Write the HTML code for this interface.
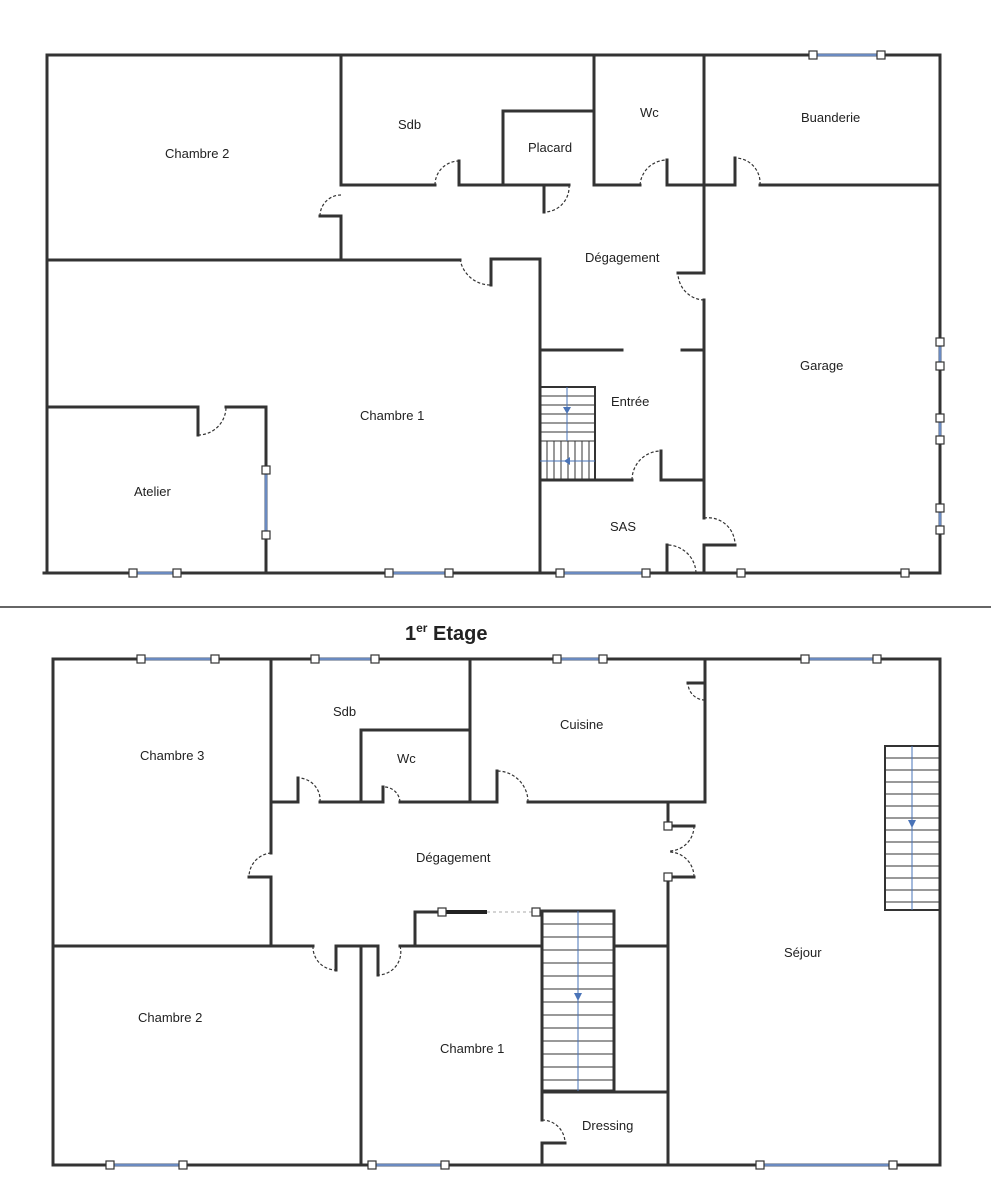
<!DOCTYPE html>
<html><head><meta charset="utf-8"><style>
html,body{margin:0;padding:0;background:#fff;}
svg{display:block;}
text{font-family:"Liberation Sans",sans-serif;font-size:13px;fill:#222;}
</style></head><body>
<svg width="991" height="1200" viewBox="0 0 991 1200" xmlns="http://www.w3.org/2000/svg">
<g stroke="#333" stroke-width="3" fill="none" stroke-linecap="square">
<!-- TOP PLAN outer -->
<path d="M47 55 H940 V572 M47 55 V573 M44 573 H940"/>
<!-- chambre 2 -->
<path d="M341 55 V185 M47 260 H460 M341 216 V260 M320 216 H341"/>
<path d="M341 185 H435 M459 185 H569 M503 185 V111 H594 M594 55 V185 H640 M667 185 H735 M760 185 H940"/>
<path d="M459 161 V185 M667 160 V185 M735 158 V185 M544 185 V212"/>
<path d="M491 259 V285 M491 259 H540 V573"/>
<path d="M540 350 H622 M682 350 H704"/>
<path d="M704 55 V272 M678 273 H704 M704 300 V518 M704 545 H735 M704 545 V573"/>
<path d="M540 480 H632 M661 451 V480 H704 M667 545 V573"/>
<path d="M47 407 H198 V435 M226 407 H266 V573"/>
</g>
<!-- door arcs top -->
<g stroke="#333" stroke-width="1.2" fill="none" stroke-dasharray="3,2">
<path d="M435 185 A24 24 0 0 1 459 161"/>
<path d="M569 185 A25 25 0 0 1 544 212"/>
<path d="M640 185 A27 27 0 0 1 667 160"/>
<path d="M760 185 A25 25 0 0 0 735 158"/>
<path d="M341 195 A21 21 0 0 0 320 216"/>
<path d="M460 259 A31 31 0 0 0 491 285"/>
<path d="M704 300 A27 27 0 0 1 678 273"/>
<path d="M632 480 A29 29 0 0 1 661 451"/>
<path d="M704 518 A27 27 0 0 1 735 545"/>
<path d="M696 573 A29 29 0 0 0 667 545"/>
<path d="M198 435 A28 28 0 0 0 226 407"/>
</g>
<!-- stairs top -->
<g stroke="#333" stroke-width="1" fill="none">
<rect x="540" y="387" width="55" height="93" stroke-width="2"/>
<path d="M540 396H595M540 405H595M540 414H595M540 423H595M540 432H595M540 441H595"/>
<path d="M547 441V480M554 441V480M561 441V480M568 441V480M575 441V480M582 441V480M589 441V480"/>
<path d="M567 387V441M540 461H595" stroke="#4a74b8"/>
</g>
<path d="M563 407 L571 407 L567 414Z M570 457 L570 465 L564 461Z" fill="#4a74b8"/>
<!-- windows top -->
<g stroke="#6a8ac0" stroke-width="2.5"><path d="M133 573H177M389 573H449M560 573H646M813 55H881M266 470V535M940 342V366M940 418V440M940 508V530"/></g>
<g fill="#fff" stroke="#333" stroke-width="1.2">
<rect x="129" y="569" width="8" height="8"/><rect x="173" y="569" width="8" height="8"/>
<rect x="385" y="569" width="8" height="8"/><rect x="445" y="569" width="8" height="8"/>
<rect x="556" y="569" width="8" height="8"/><rect x="642" y="569" width="8" height="8"/>
<rect x="737" y="569" width="8" height="8"/><rect x="901" y="569" width="8" height="8"/>
<rect x="809" y="51" width="8" height="8"/><rect x="877" y="51" width="8" height="8"/>
<rect x="262" y="466" width="8" height="8"/><rect x="262" y="531" width="8" height="8"/>
<rect x="936" y="338" width="8" height="8"/><rect x="936" y="362" width="8" height="8"/>
<rect x="936" y="414" width="8" height="8"/><rect x="936" y="436" width="8" height="8"/>
<rect x="936" y="504" width="8" height="8"/><rect x="936" y="526" width="8" height="8"/>
</g>
<text x="165" y="158">Chambre 2</text><text x="398" y="129">Sdb</text>
<text x="528" y="152">Placard</text><text x="640" y="117">Wc</text>
<text x="801" y="122">Buanderie</text><text x="585" y="262">Dégagement</text>
<text x="800" y="370">Garage</text><text x="360" y="420">Chambre 1</text>
<text x="611" y="406">Entrée</text><text x="134" y="496">Atelier</text><text x="610" y="531">SAS</text>
<!-- divider -->
<path d="M0 607H991" stroke="#333" stroke-width="1.5"/>
<text x="405" y="640" style="font-size:20px;font-weight:bold">1<tspan style="font-size:12px" dy="-8">er</tspan><tspan dy="8"> Etage</tspan></text>
<!-- BOTTOM PLAN -->
<g stroke="#333" stroke-width="3" fill="none" stroke-linecap="square">
<path d="M53 659 H940 V1165 H53 Z"/>
<path d="M271 659 V853 M249 877 H271 V946"/>
<path d="M470 659 V802 M361 730 H470 M361 730 V802"/>
<path d="M271 802 H298 M320 802 H383 M400 802 H497 M528 802 H705"/>
<path d="M298 778 V802 M383 787 V802 M497 771 V802"/>
<path d="M705 659 V802 M688 683 H705"/>
<path d="M668 802 V826 M668 877 V1165 M668 826 H694 M668 877 H694"/>
<path d="M53 946 H313 M336 946 H378 M400 946 H542 M614 946 H668"/>
<path d="M336 946 V970 M378 946 V975"/>
<path d="M361 946 V1165 M415 912 V946 M415 912 H442"/>
<path d="M542 1092 H668 M542 1092 V1120 M542 1143 V1165 M542 1143 H565"/>
</g>
<path d="M442 912 H487" stroke="#222" stroke-width="4"/>
<path d="M487 912 H536" stroke="#aaa" stroke-width="1" stroke-dasharray="3,3"/>
<g stroke="#333" stroke-width="1.2" fill="none" stroke-dasharray="3,2">
<path d="M320 802 A22 22 0 0 0 298 778"/>
<path d="M400 802 A16 16 0 0 0 383 787"/>
<path d="M528 802 A31 31 0 0 0 497 771"/>
<path d="M271 853 A24 24 0 0 0 249 877"/>
<path d="M313 946 A23 23 0 0 0 336 970"/>
<path d="M400 946 A23 23 0 0 1 378 975"/>
<path d="M694 826 A25 25 0 0 1 669 851"/>
<path d="M694 877 A25 25 0 0 0 669 852"/>
<path d="M542 1120 A23 23 0 0 1 565 1143"/>
<path d="M705 700 A17 17 0 0 1 688 683"/>
</g>
<!-- stairs bottom -->
<g stroke="#333" stroke-width="1" fill="none">
<rect x="542" y="911" width="72" height="180" stroke-width="3"/>
<path d="M542 924H614M542 937H614M542 950H614M542 963H614M542 976H614M542 989H614M542 1002H614M542 1015H614M542 1028H614M542 1041H614M542 1054H614M542 1067H614M542 1080H614"/>
<rect x="885" y="746" width="55" height="164" stroke-width="2"/>
<path d="M885 758H940M885 770H940M885 782H940M885 794H940M885 806H940M885 818H940M885 830H940M885 842H940M885 854H940M885 866H940M885 878H940M885 890H940M885 902H940"/>
<path d="M578 911V1091M912 746V910" stroke="#4a74b8"/>
</g>
<path d="M574 993 L582 993 L578 1001Z M908 820 L916 820 L912 828Z" fill="#4a74b8"/>
<g stroke="#6a8ac0" stroke-width="2.5"><path d="M141 659H215M315 659H375M557 659H603M805 659H877M110 1165H183M372 1165H445M760 1165H893"/></g>
<g fill="#fff" stroke="#333" stroke-width="1.2">
<rect x="137" y="655" width="8" height="8"/><rect x="211" y="655" width="8" height="8"/>
<rect x="311" y="655" width="8" height="8"/><rect x="371" y="655" width="8" height="8"/>
<rect x="553" y="655" width="8" height="8"/><rect x="599" y="655" width="8" height="8"/>
<rect x="801" y="655" width="8" height="8"/><rect x="873" y="655" width="8" height="8"/>
<rect x="106" y="1161" width="8" height="8"/><rect x="179" y="1161" width="8" height="8"/>
<rect x="368" y="1161" width="8" height="8"/><rect x="441" y="1161" width="8" height="8"/>
<rect x="756" y="1161" width="8" height="8"/><rect x="889" y="1161" width="8" height="8"/>
<rect x="664" y="822" width="8" height="8"/><rect x="664" y="873" width="8" height="8"/>
<rect x="438" y="908" width="8" height="8"/><rect x="532" y="908" width="8" height="8"/>
</g>
<text x="140" y="760">Chambre 3</text><text x="333" y="716">Sdb</text>
<text x="397" y="763">Wc</text><text x="560" y="729">Cuisine</text>
<text x="416" y="862">Dégagement</text><text x="784" y="957">Séjour</text>
<text x="138" y="1022">Chambre 2</text><text x="440" y="1053">Chambre 1</text>
<text x="582" y="1130">Dressing</text>
</svg>
</body></html>
